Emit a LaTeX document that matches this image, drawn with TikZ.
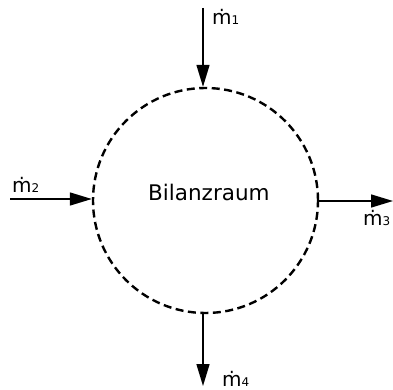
\documentclass[tikz,border=0pt]{standalone}
\usepackage{fontspec}
\setmainfont{DejaVu Sans}
\usetikzlibrary{arrows.meta}
\newcommand{\mdotsub}[1]{ṁ{\fontsize{12}{14}\selectfont #1}}
\begin{document}
\begin{tikzpicture}[x=1pt,y=-1pt,
  flow/.style={line width=1.5pt,-{Triangle[length=22pt,width=13pt]}},
  bound/.style={draw,circle,line width=2.4pt,dash pattern=on 8pt off 4.5pt,minimum size=225pt,inner sep=0pt},
  lbl/.style={font=\fontsize{20}{22}\selectfont,inner sep=0pt,anchor=base west}]
\useasboundingbox (0,0) rectangle (393,390);
\node[bound] (c) at (205.5,200.5) {};
\node[font=\fontsize{21.5}{24}\selectfont,inner sep=0pt,anchor=base west] (t) at (148,200) {Bilanzraum};
\coordinate (s1) at (203,8);
\coordinate (s2) at (10,199);
\coordinate (e3) at (393,201);
\coordinate (e4) at (203,386);
\draw[flow] (s1) -- (c.north -| s1);
\draw[flow] (s2) -- (c.west |- s2);
\draw[flow] (c.east |- e3) -- (e3);
\draw[flow] (c.south -| e4) -- (e4);
\node[lbl] (m1) at (212,25) {\mdotsub{1}};
\node[lbl] (m2) at (12,192) {\mdotsub{2}};
\node[lbl] (m3) at (363,225) {\mdotsub{3}};
\node[lbl] (m4) at (222,386) {\mdotsub{4}};
\end{tikzpicture}
\end{document}
